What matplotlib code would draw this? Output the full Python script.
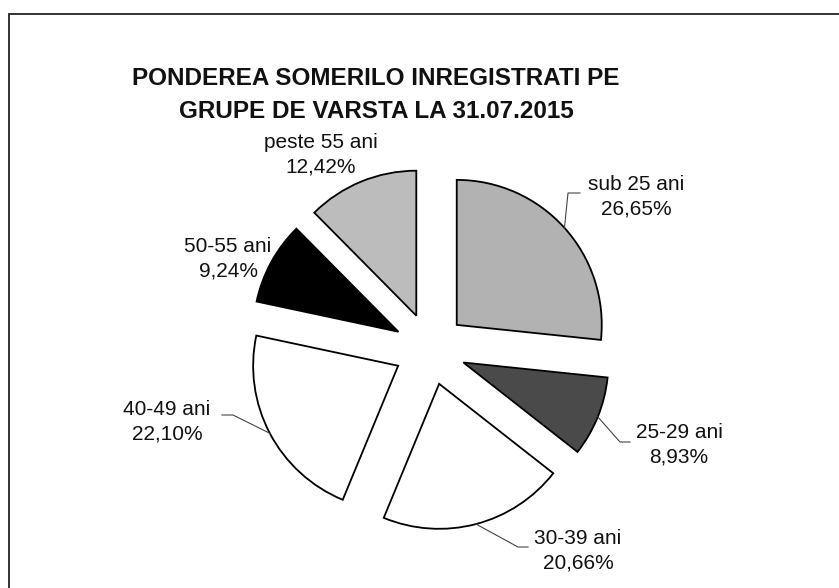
import numpy as np
import matplotlib
matplotlib.use('Agg')
import matplotlib.pyplot as plt
import matplotlib.patches as mpatches

plt.rcParams['font.family'] = ['Liberation Sans', 'DejaVu Sans']

# ── DATA ─────────────────────────────────────────────────────────
categories = ['sub 25 ani', '25-29 ani', '30-39 ani', '40-49 ani', '50-55 ani', 'peste 55 ani']
shares = [26.65, 8.93, 20.66, 22.10, 9.24, 12.42]
share_labels = ['26,65%', '8,93%', '20,66%', '22,10%', '9,24%', '12,42%']
title = 'PONDEREA SOMERILO INREGISTRATI PE\nGRUPE DE VARSTA LA 31.07.2015'

# ── STYLE ────────────────────────────────────────────────────────
colors = ['#b2b2b2', '#4a4a4a', 'white', 'white', 'black', '#bcbcbc']
W, H = 839, 588
CENTER = (430, H - 349)
RADIUS = 145
EXPLODE = 36          # px offset of every slice

# label centres (image px) and leader knee / end points (None = no leader)
label_pos = [(636, 197), (679, 445), (578, 551), (167, 422), (228, 259), (321, 155)]
leaders = [((568, 193), (580, 193)),
           ((620, 442), (630, 442)),
           ((518, 547), (528, 547)),
           ((233, 415), (222, 415)),
           None, None]

fig = plt.figure(figsize=(W / 100, H / 100), dpi=100)
ax = fig.add_axes([0, 0, 1, 1])

wedges, _ = ax.pie(shares, colors=colors, startangle=90, counterclock=False,
                   explode=[EXPLODE] * len(shares), center=CENTER, radius=RADIUS,
                   wedgeprops=dict(edgecolor='black', linewidth=1.3),
                   frame=True)
ax.set_xlim(0, W)
ax.set_ylim(0, H)
ax.set_aspect('equal')
ax.axis('off')

for w, cat, pct, (lx, ly), ld in zip(wedges, categories, share_labels, label_pos, leaders):
    ax.text(lx, H - ly, f'{cat}\n{pct}', ha='center', va='center',
            fontsize=15, color='#111111', linespacing=1.35)
    if ld is None:
        continue
    mid = np.deg2rad((w.theta1 + w.theta2) / 2)
    px, py = w.center[0] + w.r * np.cos(mid), w.center[1] + w.r * np.sin(mid)
    (kx, ky), (ex, ey) = ld
    ax.plot([px, kx, ex], [py, H - ky, H - ey], color='#444444', lw=0.8)

ax.text(376, H - 95, title, ha='center', va='center', fontsize=17.5,
        fontweight='bold', color='#111111', linespacing=1.6)

# outer chart frame (only top and left edges are visible in the scan)
ax.add_patch(mpatches.Rectangle((9, -20), W + 20, H - 14 + 20, fill=False,
                                edgecolor='#222222', lw=1.3, clip_on=False))

fig.savefig('out.png', dpi=100, facecolor='white')
